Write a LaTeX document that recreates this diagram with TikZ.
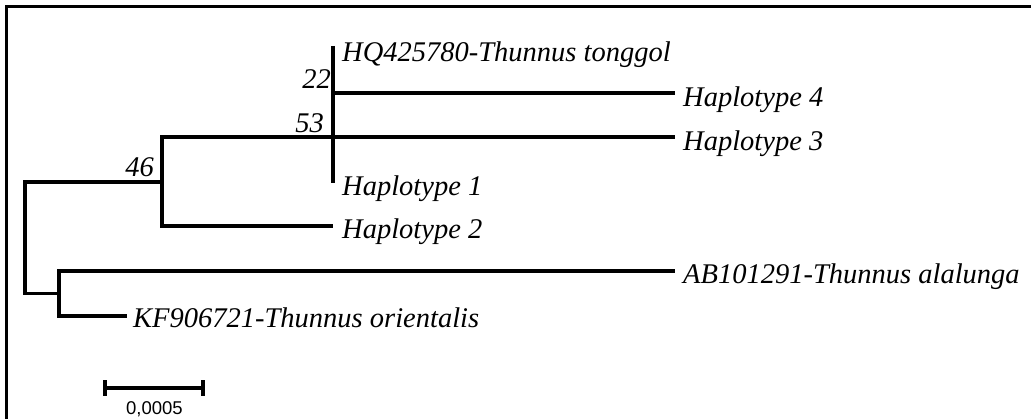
\documentclass[tikz,border=0pt]{standalone}
\usepackage{fontspec}
\setmainfont{Liberation Serif}
\newfontfamily\scalefont{Liberation Sans}
\begin{document}
\begin{tikzpicture}[x=1pt,y=-1pt,
  branch/.style={line width=3.4pt,line join=miter},
  frame/.style={line width=2.8pt},
  taxon/.style={anchor=base west,inner sep=0pt,font=\fontsize{28.5}{30}\selectfont\itshape},
  boot/.style={anchor=base east,inner sep=0pt,font=\fontsize{28.5}{30}\selectfont\itshape},
  scalelabel/.style={anchor=base,inner sep=0pt,font=\scalefont\fontsize{18.5}{20}\selectfont}]
\useasboundingbox (0,0) rectangle (1031,419);
\fill[white] (0,0) rectangle (1031,419);
% frame
\draw[frame] (6.5,419) -- (6.5,6.3) -- (1031,6.3);
% tree coordinates
\coordinate (r)    at (25,237.5);
\coordinate (n46)  at (162,182);
\coordinate (n53)  at (333,137);
\coordinate (n22)  at (333,93);
\coordinate (tHQ)  at (333,46);
\coordinate (tH4)  at (675,93);
\coordinate (tH3)  at (675,137);
\coordinate (tH1)  at (333,183);
\coordinate (tH2)  at (333,226);
\coordinate (nout) at (59,293.5);
\coordinate (tAB)  at (675,271);
\coordinate (tKF)  at (127,316);
% branches
\draw[branch] (r) |- (n46);
\draw[branch] (r) |- (nout);
\draw[branch] (n46) |- (n53);
\draw[branch] (n46) |- (tH2);
\draw[branch] (tHQ) -- (tH1);
\draw[branch] (n22) -- (tH4);
\draw[branch] (n53) -- (tH3);
\draw[branch] (nout) |- (tAB);
\draw[branch] (nout) |- (tKF);
% taxon labels
\node[taxon] (lHQ) at ([shift={(9,16)}]tHQ) {HQ425780-Thunnus tonggol};
\node[taxon] (lH4) at ([shift={(8,14)}]tH4) {Haplotype 4};
\node[taxon] (lH3) at ([shift={(8,14)}]tH3) {Haplotype 3};
\node[taxon] (lH1) at ([shift={(9,13)}]tH1) {Haplotype 1};
\node[taxon] (lH2) at ([shift={(9,13)}]tH2) {Haplotype 2};
\node[taxon] (lAB) at ([shift={(8,13)}]tAB) {AB101291-Thunnus alalunga};
\node[taxon] (lKF) at ([shift={(6,12)}]tKF) {KF906721-Thunnus orientalis};
% bootstrap values
\node[boot] (b22) at (331,89) {22};
\node[boot] (b53) at (324,133) {53};
\node[boot] (b46) at (154,177) {46};
% scale bar
\coordinate (s1) at (105,388);
\coordinate (s2) at (203,388);
\draw[branch] (s1) -- (s2);
\draw[branch] ([yshift=-8]s1) -- ([yshift=8]s1);
\draw[branch] ([yshift=-8]s2) -- ([yshift=8]s2);
\node[scalelabel] (sl) at (154.5,414.5) {0,0005};
\end{tikzpicture}
\end{document}
